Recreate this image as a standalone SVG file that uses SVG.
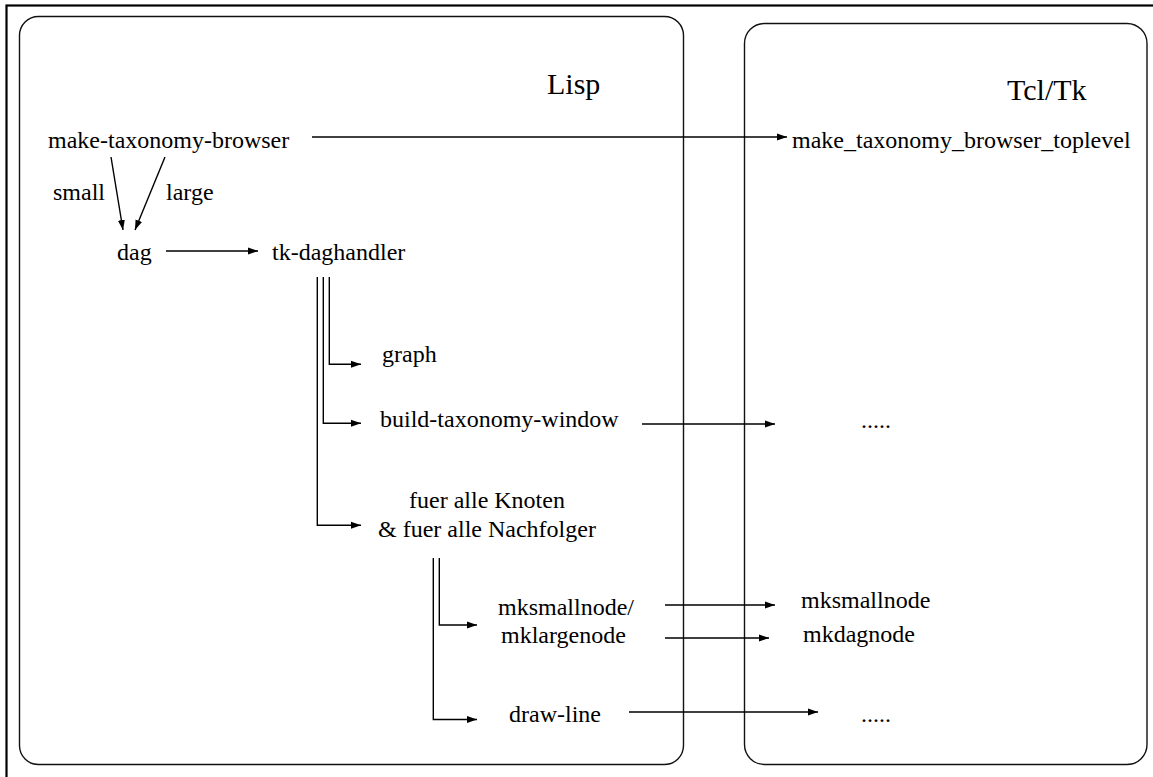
<svg xmlns="http://www.w3.org/2000/svg" width="1153" height="777" viewBox="0 0 1153 777">
  <style>
    .frame { fill: none; stroke: #000; stroke-width: 2.2; }
    .box { fill: none; stroke: #111; stroke-width: 1.4; }
    text { font-family: 'Liberation Serif', Tinos, 'Times New Roman', Times, 'Nimbus Roman', 'DejaVu Serif', serif; fill: #000; }
    .lbl { font-size: 24px; }
    .title { font-size: 30px; }
    .edge { fill: none; stroke: #000; stroke-width: 1.4; }
    .arrow { marker-end: url(#head); }
  </style>
  <defs>
    <marker id="head" markerUnits="userSpaceOnUse" markerWidth="12" markerHeight="10" refX="10" refY="4" orient="auto">
      <path d="M0,0.5 L10,4 L0,7.5 Z" fill="#000"/>
    </marker>
  </defs>

  <rect width="1153" height="777" fill="#fff"/>
  <rect class="frame" x="6.5" y="5.5" width="1170" height="800"/>

  <!-- language areas -->
  <g id="lisp-area">
    <rect class="box" x="19.5" y="16.5" width="664" height="748" rx="19" ry="19"/>
    <text class="title" x="547" y="94">Lisp</text>
  </g>
  <g id="tcl-area">
    <rect class="box" x="744.5" y="23.5" width="402.5" height="741" rx="20" ry="20"/>
    <text class="title" x="1007" y="100">Tcl/Tk</text>
  </g>

  <!-- Lisp side -->
  <g id="make-taxonomy-browser"><text class="lbl" x="48" y="148">make-taxonomy-browser</text></g>
  <g id="lbl-small"><text class="lbl" x="53" y="200">small</text></g>
  <g id="lbl-large"><text class="lbl" x="166" y="200">large</text></g>
  <g id="dag"><text class="lbl" x="117" y="260">dag</text></g>
  <g id="tk-daghandler"><text class="lbl" x="272" y="260">tk-daghandler</text></g>
  <g id="graph"><text class="lbl" x="382" y="362">graph</text></g>
  <g id="build-taxonomy-window"><text class="lbl" x="380" y="427">build-taxonomy-window</text></g>
  <g id="fuer-alle">
    <text class="lbl" x="409" y="508">fuer alle Knoten</text>
    <text class="lbl" x="378" y="537">&amp; fuer alle Nachfolger</text>
  </g>
  <g id="mknode">
    <text class="lbl" x="498" y="615">mksmallnode/</text>
    <text class="lbl" x="501" y="643">mklargenode</text>
  </g>
  <g id="draw-line"><text class="lbl" x="509" y="722">draw-line</text></g>

  <!-- Tcl/Tk side -->
  <g id="make-toplevel"><text class="lbl" x="792" y="148">make_taxonomy_browser_toplevel</text></g>
  <g id="tcl-window"><text class="lbl" x="861" y="428">.....</text></g>
  <g id="mksmallnode"><text class="lbl" x="801" y="608">mksmallnode</text></g>
  <g id="mkdagnode"><text class="lbl" x="803" y="642">mkdagnode</text></g>
  <g id="tcl-line"><text class="lbl" x="861" y="722">.....</text></g>

  <!-- connectors -->
  <g id="connectors">
    <path class="edge arrow" d="M312,137 H787"/>
    <path class="edge arrow" d="M111,157 L123,230"/>
    <path class="edge arrow" d="M165,157 L135,230"/>
    <path class="edge arrow" d="M166,251 H258"/>
    <path class="edge arrow" d="M329.3,277 V364.3 H361"/>
    <path class="edge arrow" d="M323.3,277 V423.3 H361"/>
    <path class="edge arrow" d="M317.3,277 V525.3 H361"/>
    <path class="edge arrow" d="M642,424 H775"/>
    <path class="edge arrow" d="M439.3,558 V625 H477"/>
    <path class="edge arrow" d="M433.3,558 V719.5 H477"/>
    <path class="edge arrow" d="M665,605 H775"/>
    <path class="edge arrow" d="M665,638 H769"/>
    <path class="edge arrow" d="M629,712 H818"/>
  </g>
</svg>
